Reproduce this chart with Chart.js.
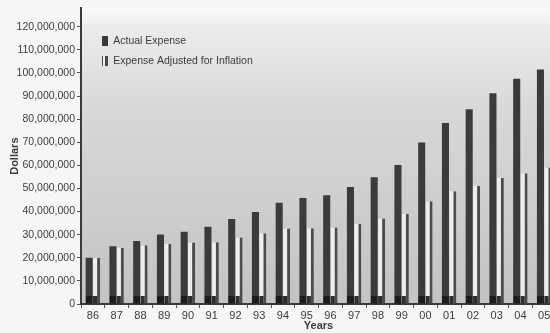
<!DOCTYPE html>
<html>
<head>
<meta charset="utf-8">
<script src="https://cdn.jsdelivr.net/npm/chart.js@4/dist/chart.umd.min.js"></script>
<style>
  html, body { margin: 0; padding: 0; background: #f6f6f6; overflow: hidden; }
  #wrap { position: relative; width: 556px; height: 333px; }
</style>
</head>
<body>
<div id="wrap"><canvas id="c"></canvas></div>
<script>
// Years shown on the category axis
const years = ['86','87','88','89','90','91','92','93','94','95','96','97','98','99','00','01','02','03','04','05'];

// Expense in dollars, as spent
const actualExpense = [
  20000000, 25000000, 27300000, 30100000, 31300000, 33400000, 36800000, 39800000, 43800000, 45900000,
  47100000, 50600000, 54900000, 60200000, 69900000, 78400000, 84300000, 91200000, 97500000, 101500000
];

// Same expense restated in constant dollars
const adjustedExpense = [
  20000000, 24300000, 25400000, 26100000, 26600000, 26700000, 28800000, 30600000, 32700000, 32800000,
  33100000, 34700000, 37000000, 39100000, 44500000, 48800000, 51100000, 54500000, 56600000, 59100000
];

// Dollar tick values for the vertical axis
const yTicks = [0, 10000000, 20000000, 30000000, 40000000, 50000000, 60000000,
                70000000, 80000000, 90000000, 100000000, 110000000, 120000000];

const FONT = "'Liberation Sans', Arial, sans-serif";
const TEXT = '#3c3c3c';

// Bars darken along a short band at their base
function baseShaded(main, base) {
  return (ctx) => {
    const chart = ctx.chart;
    const area = chart.chartArea;
    if (!area) return main;
    const g = chart.ctx.createLinearGradient(0, area.bottom, 0, area.top);
    const f = 8 / (area.bottom - area.top);
    g.addColorStop(0, base);
    g.addColorStop(f, base);
    g.addColorStop(f, main);
    g.addColorStop(1, main);
    return g;
  };
}

// Small legend swatches
function swatch(draw) {
  const c = document.createElement('canvas');
  c.width = 6; c.height = 10;
  draw(c.getContext('2d'));
  return c;
}
const swatchActual = swatch(g => { g.fillStyle = '#3a3a3a'; g.fillRect(0, 0, 6, 10); });
const swatchAdjusted = swatch(g => {
  g.fillStyle = '#ececec'; g.fillRect(0, 0, 6, 10);
  g.fillStyle = '#4a4a4a'; g.fillRect(0, 0, 1, 10); g.fillRect(3, 0, 3, 10);
});

// Shaded plot background
const plotBackground = {
  id: 'plotBackground',
  beforeDraw(chart) {
    const { ctx, chartArea: a } = chart;
    const g = ctx.createLinearGradient(0, a.top, 0, a.bottom);
    g.addColorStop(0, '#fbfbfb');
    g.addColorStop(0.06, '#ececec');
    g.addColorStop(0.35, '#d8d8d8');
    g.addColorStop(1, '#c3c3c3');
    ctx.save();
    ctx.fillStyle = g;
    ctx.fillRect(a.left, a.top, a.right - a.left, a.bottom - a.top);
    ctx.restore();
  }
};

// Nudge the in-plot legend away from the axes
const legendOffset = {
  id: 'legendOffset',
  afterLayout(chart) {
    const l = chart.legend;
    if (!l) return;
    l.left += 12; l.right += 12;
    l.top += 27; l.bottom += 27;
  }
};

new Chart(document.getElementById('c'), {
  type: 'bar',
  data: {
    labels: years,
    datasets: [
      {
        label: 'Actual Expense',
        data: actualExpense,
        backgroundColor: baseShaded('#3b3b3b', '#1c1c1c'),
        borderWidth: 0,
        categoryPercentage: 0.62,
        barPercentage: 0.96
      },
      {
        label: 'Expense Adjusted for Inflation',
        data: adjustedExpense,
        backgroundColor: baseShaded('#ededed', '#2e2e2e'),
        borderColor: '#4c4c4c',
        borderWidth: { top: 0, left: 0, bottom: 0, right: 3 },
        borderSkipped: false,
        categoryPercentage: 0.62,
        barPercentage: 0.96
      }
    ]
  },
  options: {
    responsive: true,
    maintainAspectRatio: false,
    animation: false,
    layout: { padding: { top: 5, right: 0, bottom: 0, left: 0 } },
    plugins: {
      tooltip: { enabled: false },
      legend: {
        position: 'chartArea',
        align: 'start',
        labels: {
          usePointStyle: true,
          pointStyleWidth: 6,
          boxHeight: 10,
          padding: 9,
          color: TEXT,
          font: { family: FONT, size: 10.5 },
          generateLabels(chart) {
            const items = Chart.defaults.plugins.legend.labels.generateLabels(chart);
            const marks = [swatchActual, swatchAdjusted];
            items.forEach((it, i) => { it.pointStyle = marks[i]; it.lineWidth = 0; });
            return items;
          }
        }
      }
    },
    scales: {
      x: {
        offset: true,
        grid: { offset: true, drawOnChartArea: false, drawTicks: true, tickLength: 4, color: '#555' },
        border: { display: true, color: '#3a3a3a', width: 2 },
        ticks: { color: TEXT, font: { family: FONT, size: 11 }, padding: 1, maxRotation: 0, autoSkip: false },
        title: { display: true, text: 'Years', color: TEXT, font: { family: FONT, size: 11, weight: 'bold' }, padding: { top: 0, bottom: 0 } },
        afterFit(scale) { scale.height = 29; }
      },
      y: {
        min: 0,
        max: 128000000,
        grid: { drawOnChartArea: false, drawTicks: true, tickLength: 4, color: '#555' },
        border: { display: true, color: '#3a3a3a', width: 2 },
        afterBuildTicks(scale) { scale.ticks = yTicks.map(v => ({ value: v })); },
        ticks: {
          color: TEXT,
          font: { family: FONT, size: 10.5 },
          padding: 2,
          callback: v => Number(v).toLocaleString('en-US')
        },
        title: { display: true, text: 'Dollars', color: TEXT, font: { family: FONT, size: 11, weight: 'bold' }, padding: { top: 8, bottom: 0 } },
        afterFit(scale) { scale.width = 81; }
      }
    }
  },
  plugins: [plotBackground, legendOffset]
});
</script>
</body>
</html>
